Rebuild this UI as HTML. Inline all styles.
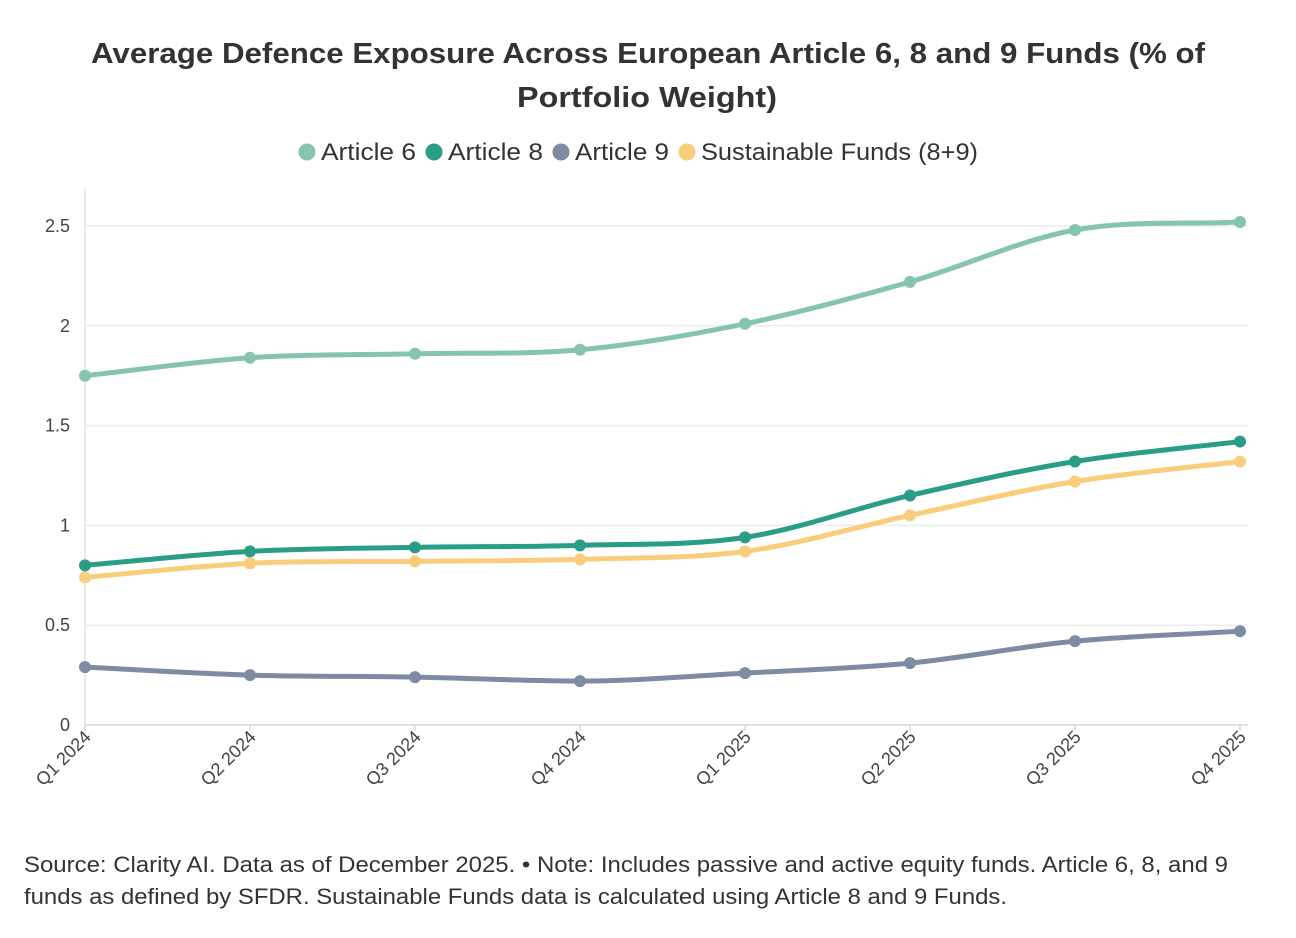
<!DOCTYPE html>
<html><head><meta charset="utf-8"><style>
body{margin:0;background:#fff;width:1296px;height:933px;overflow:hidden;font-family:"Liberation Sans",sans-serif;color:#333}
</style></head><body>
<svg id="s" width="1296" height="933" xmlns="http://www.w3.org/2000/svg" font-family="Liberation Sans, sans-serif">
<text x="91" y="63" textLength="1114" lengthAdjust="spacingAndGlyphs" font-size="29" font-weight="bold" fill="#333">Average Defence Exposure Across European Article 6, 8 and 9 Funds (% of</text>
<text x="517" y="107" textLength="260" lengthAdjust="spacingAndGlyphs" font-size="29" font-weight="bold" fill="#333">Portfolio Weight)</text>
<g font-size="24" fill="#333">
<circle cx="307" cy="152" r="8.5" fill="#85c4b0"/><text x="321" y="160" textLength="95" lengthAdjust="spacingAndGlyphs">Article 6</text>
<circle cx="434" cy="152" r="8.5" fill="#2a9d87"/><text x="448" y="160" textLength="95" lengthAdjust="spacingAndGlyphs">Article 8</text>
<circle cx="561" cy="152" r="8.5" fill="#7f8aa3"/><text x="575" y="160" textLength="94" lengthAdjust="spacingAndGlyphs">Article 9</text>
<circle cx="687" cy="152" r="8.5" fill="#f8cd7c"/><text x="701" y="160" textLength="277" lengthAdjust="spacingAndGlyphs">Sustainable Funds (8+9)</text>
</g>
<g id="grid"></g>
<g id="lines"></g>
<g font-size="18" fill="#444" id="lab"></g>
<text x="24" y="872" textLength="1204" lengthAdjust="spacingAndGlyphs" font-size="22" fill="#333">Source: Clarity AI. Data as of December 2025. • Note: Includes passive and active equity funds. Article 6, 8, and 9</text>
<text x="24" y="904" textLength="983" lengthAdjust="spacingAndGlyphs" font-size="22" fill="#333">funds as defined by SFDR. Sustainable Funds data is calculated using Article 8 and 9 Funds.</text>
</svg>
<script>
const NS="http://www.w3.org/2000/svg";
function el(p,t,a,txt){const e=document.createElementNS(NS,t);for(const k in a)e.setAttribute(k,a[k]);if(txt)e.textContent=txt;p.appendChild(e);return e;}
const X=i=>85+i*165, Y=v=>725-v*199.6;
const g=document.getElementById('grid'),L=document.getElementById('lines'),lab=document.getElementById('lab');
el(g,'line',{x1:85,x2:85,y1:188,y2:725,stroke:'#e4e4e4','stroke-width':1.5});
[0,0.5,1,1.5,2,2.5].forEach(v=>{el(g,'line',{x1:85,x2:1248,y1:Y(v),y2:Y(v),stroke:v==0?'#d8d8d8':'#ececec','stroke-width':1.5});
 el(lab,'text',{x:70,y:Y(v)+6,'text-anchor':'end'},String(v));});
const q=["Q1 2024","Q2 2024","Q3 2024","Q4 2024","Q1 2025","Q2 2025","Q3 2025","Q4 2025"];
q.forEach((t,i)=>{el(g,'line',{x1:X(i),x2:X(i),y1:725,y2:731,stroke:'#ccc'});
 el(lab,'text',{x:X(i)+7,y:738,'text-anchor':'end',transform:`rotate(-45 ${X(i)+7} 738)`},t);});
const S=[["#85c4b0",[1.75,1.84,1.86,1.88,2.01,2.22,2.48,2.52]],
["#f8cd7c",[0.74,0.81,0.82,0.83,0.87,1.05,1.22,1.32]],
["#2a9d87",[0.80,0.87,0.89,0.90,0.94,1.15,1.32,1.42]],
["#7f8aa3",[0.29,0.25,0.24,0.22,0.26,0.31,0.42,0.47]]];
S.forEach(([c,d])=>{const p=d.map((v,i)=>[X(i),Y(v)]);const n=p.length;
 const dx=165,m=[],sl=[];for(let i=0;i<n-1;i++)sl.push((p[i+1][1]-p[i][1])/dx);
 for(let i=0;i<n;i++){if(i==0)m.push(sl[0]);else if(i==n-1)m.push(sl[n-2]);else m.push(sl[i-1]*sl[i]<=0?0:(sl[i-1]+sl[i])/2);}
 let s=`M${p[0][0]},${p[0][1]}`;
 for(let i=0;i<n-1;i++){s+=` C${p[i][0]+dx/3},${p[i][1]+m[i]*dx/3} ${p[i+1][0]-dx/3},${p[i+1][1]-m[i+1]*dx/3} ${p[i+1][0]},${p[i+1][1]}`;}
 el(L,'path',{d:s,fill:'none',stroke:c,'stroke-width':5,'stroke-linecap':'round'});
 p.forEach(([x,y])=>el(L,'circle',{cx:x,cy:y,r:6,fill:c}));});
</script>
</body></html>
